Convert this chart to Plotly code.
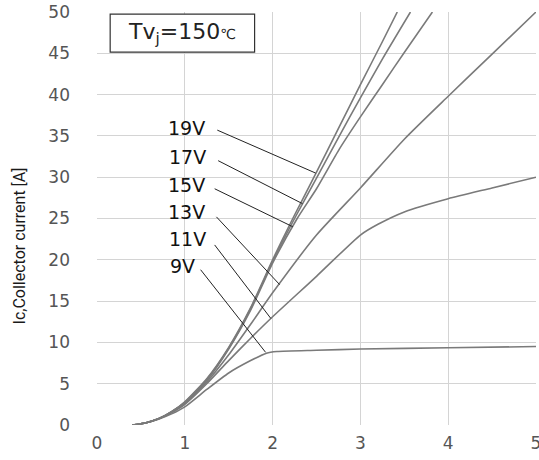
import plotly.graph_objects as go

# ---- data ----
vce_9 = [0.4, 0.55, 0.7, 0.85, 1.0, 1.25, 1.5, 1.75, 1.93, 2.05, 2.5, 3.0, 4.0, 5.0]
ic_9 = [0.0, 0.25, 0.7, 1.35, 2.2, 4.3, 6.3, 7.8, 8.7, 8.9, 9.05, 9.2, 9.35, 9.5]

vce_11 = [0.4, 0.55, 0.7, 0.85, 1.0, 1.25, 1.5, 1.75, 2.0, 2.5, 3.0, 3.2, 3.5, 4.0, 4.5, 5.0]
ic_11 = [0.0, 0.25, 0.75, 1.5, 2.5, 5.0, 7.8, 10.5, 13.1, 18.0, 23.0, 24.3, 25.8, 27.4, 28.7, 30.0]

vce_13 = [0.4, 0.55, 0.7, 0.85, 1.0, 1.25, 1.5, 1.75, 2.0, 2.5, 3.0, 3.5, 4.0, 4.5, 5.0]
ic_13 = [0.0, 0.25, 0.75, 1.55, 2.6, 5.2, 8.5, 12.2, 16.0, 23.0, 28.7, 34.6, 39.8, 44.9, 50.0]

vce_15 = [0.4, 0.55, 0.7, 0.85, 1.0, 1.25, 1.5, 1.75, 2.0, 2.28, 2.5, 2.76, 3.0, 3.25, 3.5, 3.82]
ic_15 = [0.0, 0.25, 0.75, 1.6, 2.7, 5.4, 9.2, 13.9, 19.6, 25.0, 28.6, 33.4, 37.3, 41.2, 45.1, 50.0]

vce_17 = [0.4, 0.55, 0.7, 0.85, 1.0, 1.25, 1.5, 1.75, 2.0, 2.25, 2.5, 2.75, 3.0, 3.25, 3.57]
ic_17 = [0.0, 0.25, 0.75, 1.6, 2.75, 5.5, 9.3, 14.1, 19.8, 25.0, 29.9, 34.8, 39.6, 44.3, 50.0]

vce_19 = [0.4, 0.55, 0.7, 0.85, 1.0, 1.25, 1.5, 1.75, 2.0, 2.23, 2.5, 2.75, 3.0, 3.25, 3.42]
ic_19 = [0.0, 0.25, 0.75, 1.6, 2.8, 5.6, 9.4, 14.2, 20.0, 25.0, 30.6, 35.9, 41.2, 46.4, 50.0]

series_names = ["9V", "11V", "13V", "15V", "17V", "19V"]
series_x = [vce_9, vce_11, vce_13, vce_15, vce_17, vce_19]
series_y = [ic_9, ic_11, ic_13, ic_15, ic_17, ic_19]

# label text positions and leader-line endpoints
label_x = [0.97, 1.03, 1.02, 1.02, 1.03, 1.02]
label_y = [19.3, 22.5, 25.8, 29.1, 32.5, 36.0]
leader_x0 = [1.18, 1.34, 1.36, 1.34, 1.38, 1.37]
leader_y0 = [18.8, 21.8, 25.2, 28.6, 32.0, 35.7]
leader_x1 = [1.92, 1.98, 2.08, 2.23, 2.34, 2.49]
leader_y1 = [8.8, 12.9, 17.0, 24.0, 26.8, 30.5]

x_ticks = [0, 1, 2, 3, 4, 5]
y_ticks = [0, 5, 10, 15, 20, 25, 30, 35, 40, 45, 50]

fig = go.Figure()

for name, xs, ys in zip(series_names, series_x, series_y):
    fig.add_trace(go.Scatter(
        x=xs, y=ys, mode="lines", name=name,
        line=dict(color="#7a7a7a", width=1.6, shape="spline", smoothing=0.6),
        hoverinfo="skip", showlegend=False,
    ))

for i in range(len(series_names)):
    fig.add_trace(go.Scatter(
        x=[leader_x0[i], leader_x1[i]], y=[leader_y0[i], leader_y1[i]],
        mode="lines", line=dict(color="#222222", width=1),
        hoverinfo="skip", showlegend=False,
    ))
    fig.add_annotation(
        x=label_x[i], y=label_y[i], xref="x", yref="y",
        text=series_names[i], showarrow=False,
        font=dict(family="DejaVu Sans", size=19, color="#111111"),
        xanchor="center", yanchor="middle",
    )

# Tvj box
fig.add_shape(type="rect", xref="paper", yref="paper",
              x0=0.030, x1=0.359, y0=0.903, y1=0.995,
              line=dict(color="#333333", width=1.2), fillcolor="white", layer="above")
fig.add_annotation(
    x=0.194, y=0.949, xref="paper", yref="paper", showarrow=False,
    text="Tv<sub>j</sub>=150<span style='font-size:14px'>℃</span>",
    font=dict(family="DejaVu Sans", size=22, color="#222222"),
    xanchor="center", yanchor="middle",
)

# y-axis title
fig.add_annotation(
    x=-0.177, y=0.433, xref="paper", yref="paper", showarrow=False,
    text="Ic,Collector current [A]", textangle=-90,
    font=dict(family="Roboto", size=16, color="#1a1a1a"),
    xanchor="center", yanchor="middle",
)

grid = "#d4d4d4"
fig.update_layout(
    width=539, height=460,
    margin=dict(l=97, r=3, t=12, b=35, autoexpand=False),
    paper_bgcolor="white", plot_bgcolor="white",
    showlegend=False,
    xaxis=dict(range=[0, 5], tickvals=x_ticks, showgrid=True, gridcolor=grid, gridwidth=1.3,
               zeroline=False, showline=False, automargin=False, ticklabeloverflow="allow",
               tickfont=dict(family="DejaVu Sans", size=17, color="#555555"),
               ticklabelstandoff=6),
    yaxis=dict(range=[0, 50], tickvals=y_ticks, showgrid=True, gridcolor=grid, gridwidth=1.3,
               zeroline=False, showline=False, automargin=False, ticklabeloverflow="allow",
               tickfont=dict(family="DejaVu Sans", size=17, color="#555555"),
               ticklabelstandoff=26),
)

fig.write_html("out.html", config={"displayModeBar": False},
               post_script="document.body.style.margin='0px';document.body.style.overflow='hidden';")
